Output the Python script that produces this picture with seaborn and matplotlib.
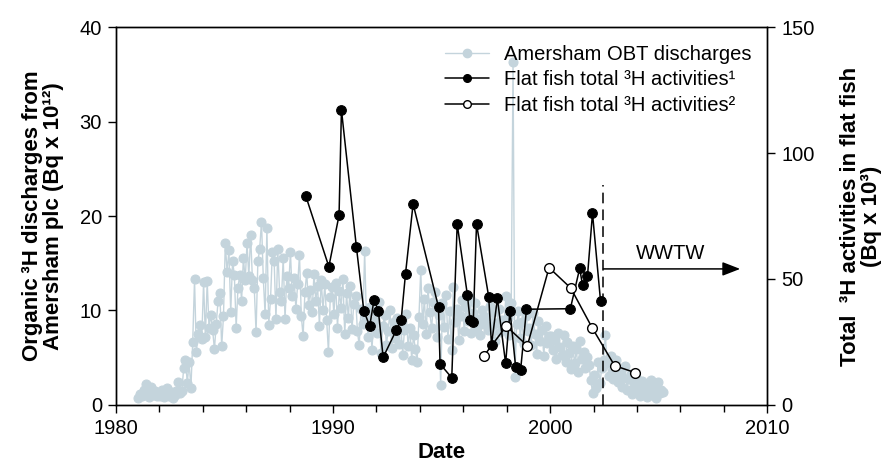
import numpy as np
import pandas as pd
import matplotlib
matplotlib.use("Agg")
import matplotlib.pyplot as plt
from matplotlib.lines import Line2D
from matplotlib.ticker import MultipleLocator
import seaborn as sns

# Monthly organic 3H (OBT) discharges from Amersham plc, Bq x 10^12, Jan 1981 - Mar 2005
obt_1981_1990 = [
    0.7, 1.2, 0.9, 1.6, 2.2, 1.4, 0.8, 1.9, 1.1, 1.5, 0.9, 1.3,
    1.0, 1.6, 0.8, 1.2, 1.8, 1.0, 1.4, 0.7, 1.1, 1.5, 2.4, 1.3,
    1.5, 3.9, 4.8, 2.3, 4.5, 1.8, 6.7, 13.3, 5.6, 7.5, 8.5, 7.0,
    13.0, 7.2, 13.1, 8.2, 9.5, 7.9, 5.9, 8.6, 11.0, 11.9, 6.2, 9.4,
    17.1, 14.1, 16.4, 9.8, 15.2, 13.8, 8.2, 12.4, 13.8, 11.0, 15.6, 13.2,
    17.1, 13.6, 18.0, 13.2, 12.4, 7.7, 15.2, 16.5, 19.4, 13.4, 9.6, 18.7,
    8.5, 11.2, 16.2, 15.2, 9.1, 16.5, 12.0, 11.0, 15.6, 9.1, 13.6, 12.4,
    16.2, 11.5, 13.4, 10.2, 12.8, 15.9, 9.4, 7.3, 12.0, 14.0, 10.6, 12.2,
    9.8, 13.9, 11.0, 12.6, 8.4, 13.2, 10.1, 12.8, 9.0, 5.6, 11.4, 12.5,
    9.6, 12.9, 8.2, 12.1, 10.3, 13.3, 7.5, 11.8, 9.2, 12.6, 8.0, 10.7,
]
obt_1991_2005 = [
    11.5, 7.8, 6.3, 10.2, 8.6, 16.3, 9.0, 7.2, 10.4, 5.8, 8.9, 9.7,
    7.6, 10.9, 5.5, 8.4, 9.5, 6.4, 7.8, 10.0, 6.0, 8.8, 7.1, 9.2,
    6.5, 8.7, 5.3, 7.9, 9.6, 6.2, 8.1, 4.8, 7.4, 5.9, 4.6, 9.3,
    14.3, 8.6, 11.2, 7.5, 12.4, 9.8, 8.1, 10.9, 12.0, 7.2, 9.5, 2.1,
    10.8, 8.3, 11.6, 7.0, 9.9, 5.8, 12.5, 8.8, 10.2, 6.9, 9.4, 11.1,
    7.8, 10.4, 8.9, 11.3, 7.6, 9.7, 10.8, 8.2, 9.1, 7.4, 10.1, 8.6,
    9.3, 7.9, 10.5, 8.4, 9.8, 6.8, 8.7, 10.2, 7.7, 9.0, 8.1, 11.5,
    9.2, 7.4, 10.8, 36.3, 3.0, 8.6, 9.9, 7.1, 8.8, 6.5, 9.4, 7.8,
    8.2, 6.3, 9.7, 7.5, 5.4, 8.9, 6.8, 7.9, 5.2, 8.4, 6.6, 7.3,
    7.3, 5.8, 6.9, 4.9, 7.6, 6.1, 5.3, 7.4, 4.6, 6.7, 5.5, 3.8,
    6.2, 4.4, 5.9, 3.5, 6.8, 4.9, 5.6, 3.9, 5.1, 4.2, 2.6, 1.3,
    3.2, 1.8, 4.5, 2.3, 3.9, 4.8, 7.4, 4.4, 3.1, 5.2, 2.7, 3.6,
    4.8, 2.4, 3.5, 1.9, 2.9, 4.1, 1.6, 2.7, 3.3, 1.2, 2.2, 3.0,
    1.8, 0.9, 2.5, 1.4, 2.1, 0.8, 1.6, 2.6, 1.1, 1.9, 0.7, 2.4,
    1.3, 1.6, 1.4,
]
obt_values = obt_1981_1990 + obt_1991_2005
obt_months = pd.date_range("1981-01-01", periods=len(obt_values), freq="MS")
obt_dates = obt_months.year + (obt_months.month - 0.5) / 12.0

# Flat fish total 3H activities (Bq x 10^3), dataset 1
fish1_dates = [1988.75, 1989.81, 1990.28, 1990.39, 1991.08, 1991.42, 1991.69,
               1991.89, 1992.09, 1992.31, 1992.92, 1993.14, 1993.34, 1993.69,
               1994.86, 1994.93, 1995.47, 1995.72, 1996.19, 1996.31, 1996.46,
               1996.61, 1997.17, 1997.30, 1997.57, 1997.95, 1998.15, 1998.41,
               1998.64, 1998.91, 2000.93, 2001.36, 2001.49, 2001.72, 2001.95,
               2002.32]
fish1_values = [82.9, 54.9, 75.3, 117.1, 62.6, 37.4, 31.3,
                41.7, 37.4, 18.9, 29.8, 33.7, 52.1, 79.8,
                38.8, 16.3, 10.8, 71.8, 43.7, 33.7, 32.9,
                71.8, 43.0, 23.8, 42.3, 16.5, 37.4, 15.2,
                13.9, 38.0, 38.2, 54.2, 47.6, 51.2, 76.1,
                41.3]

# Flat fish total 3H activities (Bq x 10^3), dataset 2
fish2_dates = [1996.96, 1997.98, 1998.95, 1999.95, 2000.95, 2001.95, 2002.97, 2003.93]
fish2_values = [19.6, 31.3, 23.5, 54.5, 46.4, 30.4, 15.6, 12.8]

wwtw_year = 2002.45
wwtw_arrow_end = 2008.75
wwtw_level = 14.4

obt_df = pd.DataFrame({"date": obt_dates, "obt": obt_values})
fish1_df = pd.DataFrame({"date": fish1_dates, "activity": fish1_values})
fish2_df = pd.DataFrame({"date": fish2_dates, "activity": fish2_values})

sns.set_theme(style="ticks")
plt.rcParams["font.family"] = ["Liberation Sans", "DejaVu Sans"]
plt.rcParams.update({
    "axes.linewidth": 1.0,
    "text.color": "black",
    "axes.labelcolor": "black",
    "xtick.color": "black",
    "ytick.color": "black",
    "axes.edgecolor": "black",
})

GREY = "#c4d4dc"
FS = 14.5
LFS = 16

fig = plt.figure(figsize=(8.84, 4.74), dpi=100)
ax = fig.add_axes([0.131, 0.1456, 0.737, 0.7974])
ax2 = ax.twinx()

sns.lineplot(data=obt_df, x="date", y="obt", ax=ax, color=GREY, lw=1.0,
             marker="o", markersize=6.5, markeredgecolor=GREY,
             estimator=None, sort=False, legend=False)

sns.lineplot(data=fish1_df, x="date", y="activity", ax=ax2, color="black", lw=1.1,
             marker="o", markersize=7, markerfacecolor="black",
             markeredgecolor="black", estimator=None, sort=False, legend=False)
sns.lineplot(data=fish2_df, x="date", y="activity", ax=ax2, color="black", lw=1.1,
             marker="o", markersize=7, markerfacecolor="white",
             markeredgecolor="black", markeredgewidth=1.0,
             estimator=None, sort=False, legend=False)

ax.set_xlim(1980, 2010)
ax.set_ylim(0, 40)
ax2.set_ylim(0, 150)

ax.xaxis.set_major_locator(MultipleLocator(10))
ax.xaxis.set_minor_locator(MultipleLocator(2))
ax.yaxis.set_major_locator(MultipleLocator(10))
ax2.yaxis.set_major_locator(MultipleLocator(50))

for a in (ax, ax2):
    for s in a.spines.values():
        s.set_visible(True)
        s.set_color("black")
        s.set_linewidth(1.0)
ax.tick_params(axis="both", which="major", direction="out", length=6, width=1,
               labelsize=FS, colors="black", pad=4)
ax.tick_params(axis="x", which="minor", direction="out", length=5, width=1,
               colors="black")
ax2.tick_params(axis="y", which="major", direction="out", length=6, width=1,
                labelsize=FS, colors="black", pad=4)

ax.set_xlabel("Date", fontsize=LFS, fontweight="bold", labelpad=3)
ax.set_ylabel("Organic\u2009³H discharges from\nAmersham plc (Bq x 10¹²)",
              fontsize=LFS, fontweight="bold", labelpad=11, linespacing=1.0)
ax2.set_ylabel("Total  ³H activities in flat fish\n(Bq x 10³)",
               fontsize=LFS, fontweight="bold", labelpad=18, linespacing=1.0)

# WWTW marker: dashed start line and arrow
ax.vlines(wwtw_year, 0, 23.3, colors="black", linestyles=(0, (7, 4)), lw=1.1)
ax.annotate("", xy=(wwtw_arrow_end, wwtw_level), xytext=(wwtw_year, wwtw_level),
            arrowprops=dict(arrowstyle="-|>,head_length=0.9,head_width=0.35",
                            color="black", lw=1.1, shrinkA=0, shrinkB=0))
ax.text((wwtw_year + wwtw_arrow_end) / 2 - 0.05, wwtw_level + 0.6, "WWTW",
        fontsize=FS, ha="center", va="bottom")

handles = [
    Line2D([], [], color=GREY, lw=1.0, marker="o", markersize=6,
           markerfacecolor=GREY, markeredgecolor=GREY),
    Line2D([], [], color="black", lw=1.1, marker="o", markersize=5.5,
           markerfacecolor="black", markeredgecolor="black"),
    Line2D([], [], color="black", lw=1.1, marker="o", markersize=5.5,
           markerfacecolor="white", markeredgecolor="black"),
]
labels = ["Amersham OBT discharges",
          "Flat fish total ³H activities¹",
          "Flat fish total ³H activities²"]
ax2.legend(handles, labels, loc="upper left", bbox_to_anchor=(0.503, 0.905),
           bbox_transform=fig.transFigure, frameon=False, fontsize=FS,
           handlelength=2.2, handletextpad=0.75, labelspacing=0.32,
           borderpad=0, borderaxespad=0, labelcolor="black")

fig.savefig("out.png", dpi=100)
